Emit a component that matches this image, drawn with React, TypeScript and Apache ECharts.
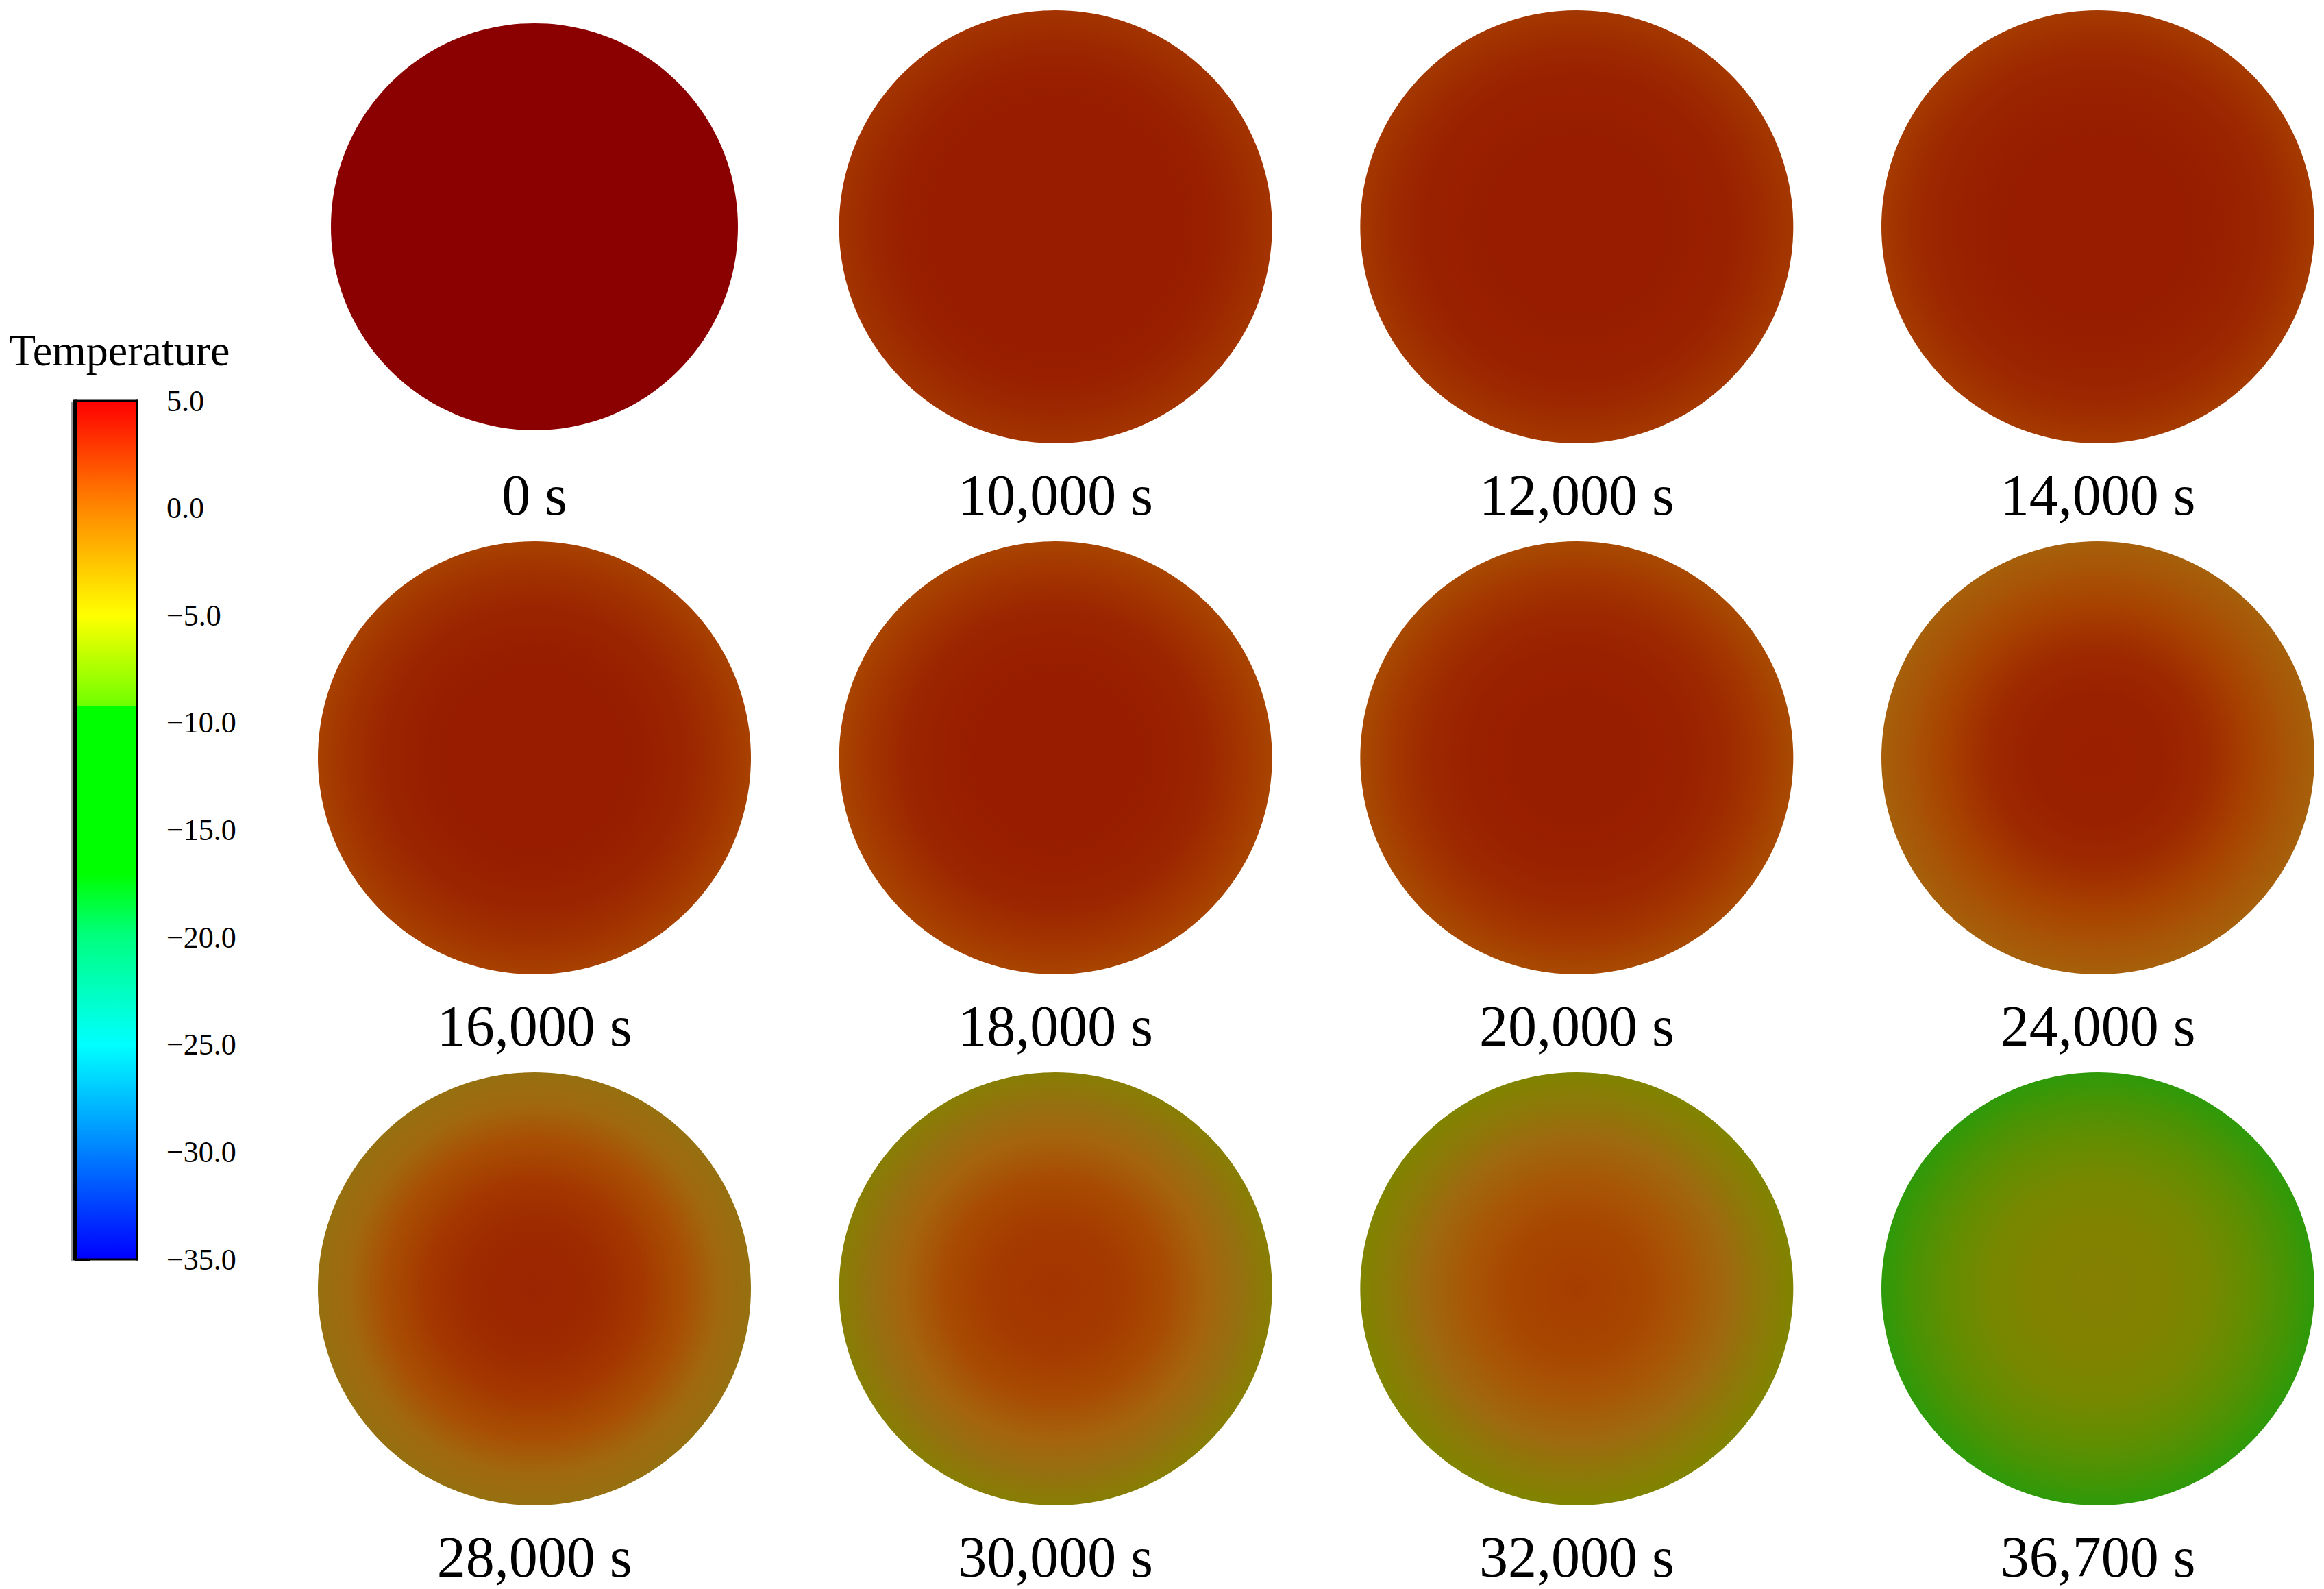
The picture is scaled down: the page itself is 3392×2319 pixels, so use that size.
import React, { useEffect, useRef } from "react";
import * as echarts from "echarts";

// Snapshot times (s)
const times = [0, 10000, 12000, 14000, 16000, 18000, 20000, 24000, 28000, 30000, 32000, 36700];

// Radial temperature profile (°C) at fractions of the radius
const radialFractions = [0, 0.3, 0.5, 0.7, 0.85, 1];
const tCenter = [5, 3.4, 3.4, 3.4, 3.4, 3.4, 3.3, 3.2, 2.9, 2.0, 1.5, -4.4];
const tR30 = [5, 3.4, 3.4, 3.4, 3.4, 3.4, 3.3, 3.1, 2.6, 1.6, 1.0, -4.9];
const tR50 = [5, 3.4, 3.3, 3.3, 3.3, 3.2, 3.1, 2.6, 1.8, 0.8, 0.2, -5.6];
const tR70 = [5, 3.2, 3.1, 3.0, 2.9, 2.8, 2.6, 1.3, 0.5, -0.8, -1.5, -6.8];
const tR85 = [5, 2.7, 2.6, 2.5, 2.2, 2.0, 1.8, 0.4, -1.3, -2.5, -3.5, -7.8];
const tEdge = [5, 2.0, 1.8, 1.6, 1.3, 1.1, 0.8, -0.5, -2.5, -4.3, -5.0, -8.8];

// Shaded (rendered) colour scale for the sample surfaces
const shadeTemps = [5, 4, 3.4, 2, 1, 0, -1, -2.5, -4, -5, -6.5, -8, -9];
const shadeColors = [
  "#8B0000", "#921200", "#971C00", "#A33400", "#A84600", "#A85A08",
  "#A4660E", "#967010", "#8A7C05", "#808400", "#698C00", "#469405", "#289B0A",
];

// Colour-bar (legend) scale
const barMin = -35;
const barMax = 5;
const barInterval = 5;
const jetTemps = [5, 0, -5, -9.2, -9.25, -17, -20, -25, -30, -35];
const jetColors = [
  "#FF0000", "#FF8800", "#FFFF00", "#70FF00", "#00FF00", "#00FF00",
  "#00FF80", "#00FFFF", "#0080FF", "#0000FF",
];

const FONT = "Liberation Serif";

function hexToRgb(h: string) {
  return [parseInt(h.slice(1, 3), 16), parseInt(h.slice(3, 5), 16), parseInt(h.slice(5, 7), 16)];
}

function shadeColor(t: number) {
  if (t >= shadeTemps[0]) return shadeColors[0];
  for (let i = 0; i < shadeTemps.length - 1; i++) {
    const a = shadeTemps[i];
    const b = shadeTemps[i + 1];
    if (t <= a && t >= b) {
      const f = (a - t) / (a - b);
      const ca = hexToRgb(shadeColors[i]);
      const cb = hexToRgb(shadeColors[i + 1]);
      const c = ca.map((v, k) => Math.round(v + (cb[k] - v) * f));
      return `rgb(${c[0]},${c[1]},${c[2]})`;
    }
  }
  return shadeColors[shadeColors.length - 1];
}

export default function App() {
  const ref = useRef<HTMLDivElement>(null);

  useEffect(() => {
    if (!ref.current) return;
    const chart = echarts.init(ref.current, undefined, { renderer: "svg" });

    const profiles = [tCenter, tR30, tR50, tR70, tR85, tEdge];

    const data = times.map((t, i) => {
      const stops = radialFractions.map((f, k) => ({
        offset: f,
        color: shadeColor(profiles[k][i]),
      }));
      return {
        value: [i % 4, Math.floor(i / 4)],
        symbolSize: i === 0 ? 594 : 632,
        itemStyle: {
          opacity: 1,
          color: new echarts.graphic.RadialGradient(0.5, 0.5, 0.5, stops),
        },
      };
    });

    const jetStops = jetTemps.map((t, k) => ({
      offset: (barMax - t) / (barMax - barMin),
      color: jetColors[k],
    }));

    const barLeft = 110;
    const barTop = 585;
    const barW = 90;
    const barH = 1253;

    chart.setOption({
      animation: false,
      backgroundColor: "#ffffff",
      grid: [
        { left: 780, top: 331, width: 2282, height: 1550 },
        { left: barLeft, top: barTop, width: barW, height: barH },
      ],
      xAxis: [
        { type: "value", gridIndex: 0, min: 0, max: 3, show: false },
        { type: "value", gridIndex: 1, min: 0, max: 1, show: false },
      ],
      yAxis: [
        { type: "value", gridIndex: 0, min: 0, max: 2, inverse: true, show: false },
        {
          type: "value",
          gridIndex: 1,
          position: "right",
          min: barMin,
          max: barMax,
          interval: barInterval,
          axisLine: { show: false },
          axisTick: { show: true, length: 21, lineStyle: { color: "#000", width: 3 } },
          splitLine: { show: false },
          axisLabel: {
            margin: 43,
            fontSize: 44,
            color: "#000",
            fontFamily: FONT,
            formatter: (v: number) => (v < 0 ? "\u2212" + Math.abs(v).toFixed(1) : v.toFixed(1)),
          },
        },
      ],
      graphic: [
        {
          type: "rect",
          shape: { x: barLeft, y: barTop, width: barW, height: barH },
          style: {
            fill: new echarts.graphic.LinearGradient(0, 0, 0, 1, jetStops),
            stroke: "#000",
            lineWidth: 3,
          },
          z: 1,
        },
        {
          type: "line",
          shape: { x1: 105, y1: barTop + 2, x2: 105, y2: barTop + barH + 2 },
          style: { stroke: "#9a9a9a", lineWidth: 2 },
          z: 1,
        },
        {
          type: "line",
          shape: { x1: barLeft, y1: barTop - 1.5, x2: barLeft, y2: barTop + barH + 1.5 },
          style: { stroke: "#000", lineWidth: 6 },
          z: 2,
        },
        {
          type: "line",
          shape: { x1: barLeft + barW, y1: barTop - 1.5, x2: barLeft + barW, y2: barTop + barH + 1.5 },
          style: { stroke: "#000", lineWidth: 4 },
          z: 2,
        },
        {
          type: "text",
          style: {
            x: 13,
            y: 511,
            text: "Temperature",
            fontSize: 64,
            fontFamily: FONT,
            fill: "#000",
            textAlign: "left",
            textVerticalAlign: "middle",
          },
          z: 2,
        },
      ],
      series: [
        {
          type: "scatter",
          xAxisIndex: 0,
          yAxisIndex: 0,
          symbol: "circle",
          data,
          silent: true,
          itemStyle: { opacity: 1 },
          emphasis: { disabled: true },
          label: {
            show: true,
            position: "inside",
            offset: [0, 391],
            fontSize: 84,
            color: "#000",
            opacity: 1,
            fontFamily: FONT,
            formatter: (p: any) => `${times[p.dataIndex].toLocaleString("en-US")} s`,
          },
        },
      ],
    });

    return () => chart.dispose();
  }, []);

  return (
    <div
      ref={ref}
      style={{ position: "fixed", left: 0, top: 0, width: 3392, height: 2319, background: "#fff" }}
    />
  );
}
